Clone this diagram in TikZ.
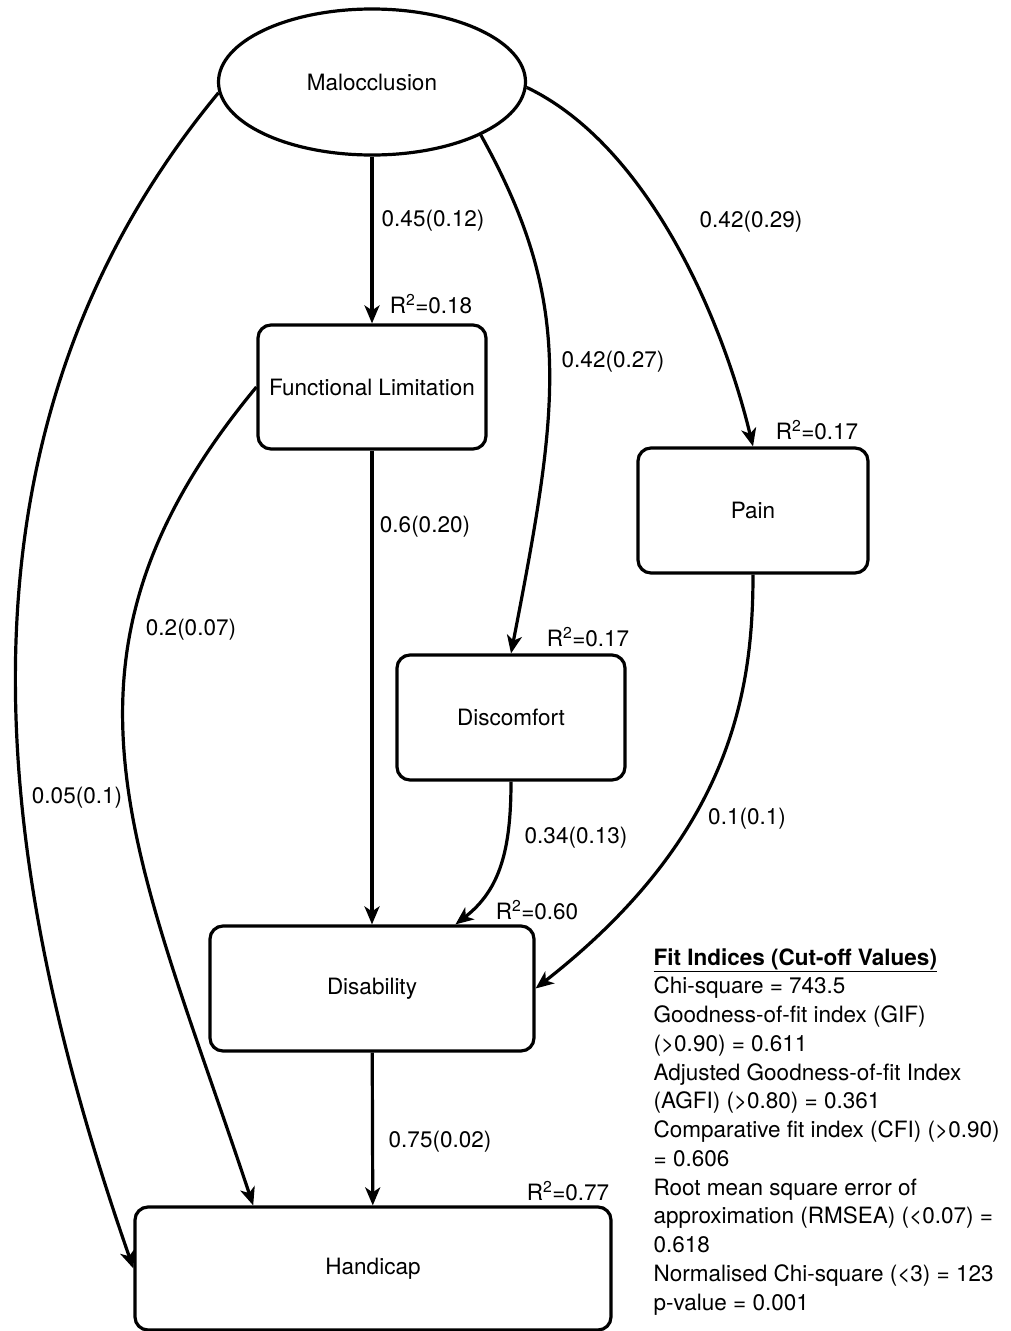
\documentclass[tikz,border=0pt]{standalone}
\usepackage{fontspec}
\setmainfont{TeX Gyre Heros}
\usetikzlibrary{arrows.meta,shapes.geometric,calc}

\begin{document}
\begin{tikzpicture}[x=1pt,y=-1pt,line width=3.2pt,font=\fontsize{22.5}{27}\selectfont,
latent/.style={ellipse,draw,minimum width=307pt,minimum height=146pt,inner sep=0pt},
stage/.style n args={2}{rectangle,draw,rounded corners=13pt,minimum width=#1pt,minimum height=#2pt,inner sep=0pt},
effect/.style={-{Stealth[length=18pt,width=15pt,inset=5pt]}},
coef/.style={inner sep=0pt}]
\useasboundingbox (0,0) rectangle (1011,1331);
% constructs
\node[latent] (mal) at (372,82) {Malocclusion};
\node[stage={228}{124}] (func) at (372,387) {Functional Limitation};
\node[stage={230}{125}] (pain) at (753,510.5) {Pain};
\node[stage={228}{125}] (disc) at (511,717.5) {Discomfort};
\node[stage={324}{125}] (dis) at (372,988.5) {Disability};
\node[stage={476}{123}] (hand) at (373,1268.5) {Handicap};
\coordinate (handin) at ($(hand.north west)!0.25!(hand.north east)$);
\coordinate (disin) at ($(dis.north west)!0.755!(dis.north east)$);
% paths
\draw[effect] (mal) -- (func);
\draw[effect] (func) -- (dis);
\draw[effect] (dis) -- (hand);
\draw[effect] (mal.184) .. controls (-80,453) and (5,900) .. (hand.west);
\draw[effect] (func.west) .. controls (30,660) and (135,850) .. (handin);
\draw[effect] (mal.-26) .. controls (574.6,303.6) and (559.4,404.2) .. (disc.north);
\draw[effect] (mal.-2) .. controls (645,144) and (720.5,312) .. (pain.north);
\draw[effect] (disc.south) .. controls (511,850) and (500,890) .. (disin);
\draw[effect] (pain.south) .. controls (753,690) and (732,835) .. (dis.east);
% estimates
\node[coef] (c1) at (433,221) {0.45(0.12)};
\node[coef] (c2) at (613,362) {0.42(0.27)};
\node[coef] (c3) at (751,222) {0.42(0.29)};
\node[coef] (c4) at (425,527) {0.6(0.20)};
\node[coef] (c5) at (191,630) {0.2(0.07)};
\node[coef] (c6) at (77,798) {0.05(0.1)};
\node[coef] (c7) at (576,838) {0.34(0.13)};
\node[coef] (c8) at (747,819) {0.1(0.1)};
\node[coef] (c9) at (440,1142) {0.75(0.02)};
% explained variance
\node[coef] (r1) at (431,304) {R\textsuperscript{2}=0.18};
\node[coef] (r2) at (817,430) {R\textsuperscript{2}=0.17};
\node[coef] (r3) at (588,637) {R\textsuperscript{2}=0.17};
\node[coef] (r4) at (537,910) {R\textsuperscript{2}=0.60};
\node[coef] (r5) at (568,1191) {R\textsuperscript{2}=0.77};
% fit indices
\foreach \txt [count=\i from 0] in {%
{\underline{\textbf{Fit Indices (Cut-off Values)}}},Chi-square = 743.5,Goodness-of-fit index (GIF),%
(>0.90) = 0.611,Adjusted Goodness-of-fit Index,(AGFI) (>0.80) = 0.361,%
Comparative fit index (CFI) (>0.90),= 0.606,Root mean square error of,%
approximation (RMSEA) (<0.07) =,0.618,Normalised Chi-square (<3) = 123,p-value = 0.001} {
   \node[coef,anchor=base west] (fit\i) at (652,{965+28.75*\i}) {\txt};
}
\end{tikzpicture}
\end{document}
